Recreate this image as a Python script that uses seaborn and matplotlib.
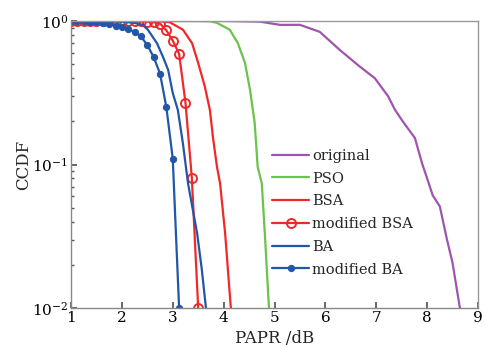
import numpy as np
import pandas as pd
import matplotlib
matplotlib.use("Agg")
import matplotlib.pyplot as plt
import seaborn as sns
from matplotlib.ticker import LogLocator, NullFormatter

# ---- data ----
orig_x = [1.0, 4.0, 4.71, 5.11, 5.50, 5.89, 6.28, 6.68, 6.97, 7.23, 7.37, 7.52, 7.76, 7.90, 7.99, 8.11, 8.25, 8.39, 8.50, 8.64, 8.66]
orig_y = [1.0, 1.0, 0.99, 0.94, 0.94, 0.84, 0.63, 0.48, 0.40, 0.30, 0.24, 0.20, 0.153, 0.102, 0.082, 0.061, 0.051, 0.030, 0.0206, 0.0102, 0.0098]

pso_x = [1.0, 3.5, 3.75, 3.87, 4.12, 4.28, 4.42, 4.52, 4.61, 4.67, 4.75, 4.81, 4.89, 4.90]
pso_y = [1.0, 1.0, 0.995, 0.97, 0.87, 0.70, 0.51, 0.33, 0.195, 0.096, 0.074, 0.033, 0.0102, 0.0098]

bsa_x = [1.0, 2.5, 2.75, 2.94, 3.20, 3.38, 3.50, 3.63, 3.73, 3.79, 3.87, 3.93, 4.03, 4.14, 4.15]
bsa_y = [1.0, 1.0, 0.995, 0.98, 0.87, 0.70, 0.51, 0.35, 0.24, 0.155, 0.096, 0.074, 0.033, 0.0102, 0.0098]

mbsa_x = [1.0, 1.125, 1.25, 1.375, 1.5, 1.625, 1.75, 1.875, 2.0, 2.125, 2.25, 2.375, 2.5, 2.625, 2.75, 2.875, 3.0, 3.125, 3.25, 3.375, 3.5]
mbsa_y = [1.0, 1.0, 1.0, 1.0, 1.0, 1.0, 1.0, 1.0, 1.0, 1.0, 1.0, 0.995, 0.99, 0.98, 0.96, 0.86, 0.73, 0.59, 0.27, 0.081, 0.0100]

ba_x = [1.0, 2.0, 2.25, 2.41, 2.51, 2.69, 2.81, 2.91, 3.00, 3.10, 3.20, 3.30, 3.48, 3.57, 3.65, 3.66]
ba_y = [1.0, 0.99, 0.97, 0.94, 0.87, 0.70, 0.56, 0.456, 0.315, 0.24, 0.14, 0.074, 0.033, 0.0187, 0.0102, 0.0098]

mba_x = [1.0, 1.125, 1.25, 1.375, 1.5, 1.625, 1.75, 1.875, 2.0, 2.125, 2.25, 2.375, 2.5, 2.625, 2.75, 2.875, 3.0, 3.125]
mba_y = [1.0, 1.0, 1.0, 0.99, 0.98, 0.97, 0.95, 0.93, 0.91, 0.88, 0.84, 0.78, 0.68, 0.56, 0.43, 0.25, 0.11, 0.0100]

labels = ["original", "PSO", "BSA", "modified BSA", "BA", "modified BA"]
colors = ["#9E55AE", "#6CC24A", "#F0282A", "#F0282A", "#2356A8", "#2356A8"]
xticks = [1, 2, 3, 4, 5, 6, 7, 8, 9]

sns.set_theme(style="ticks")
plt.rcParams["font.family"] = ["DejaVu Serif"]
plt.rcParams["mathtext.fontset"] = "dejavuserif"

fig = plt.figure(figsize=(4.86, 3.46), dpi=100)
ax = fig.add_axes([71 / 486, 1 - 308 / 346, (478 - 71) / 486, (308 - 21) / 346])

series = [(orig_x, orig_y), (pso_x, pso_y), (bsa_x, bsa_y), (mbsa_x, mbsa_y), (ba_x, ba_y), (mba_x, mba_y)]
for (xs, ys), lab, col in zip(series, labels, colors):
    kw = dict(color=col, linewidth=1.6, label=lab, ax=ax, estimator=None, sort=False)
    if lab == "modified BSA":
        kw.update(marker="o", markersize=6.5, markerfacecolor="none",
                  markeredgecolor=col, markeredgewidth=1.4)
    elif lab == "modified BA":
        kw.update(marker="o", markersize=4.5, markerfacecolor=col,
                  markeredgecolor=col)
    sns.lineplot(x=xs, y=ys, **kw)

ax.set_yscale("log")
ax.set_xlim(1, 9)
ax.set_ylim(0.01, 1)
ax.set_xticks(xticks)
ax.set_xticklabels([str(t) for t in xticks])
ax.yaxis.set_major_locator(LogLocator(base=10, numticks=5))
ax.yaxis.set_minor_locator(LogLocator(base=10, subs=np.arange(2, 10), numticks=20))
ax.yaxis.set_minor_formatter(NullFormatter())
ax.tick_params(axis="both", which="both", direction="in", labelsize=11, colors="#555555",
               labelcolor="black")
ax.tick_params(axis="both", which="major", length=4, pad=2)
ax.tick_params(axis="y", which="minor", length=2.5)
for s in ["left", "bottom"]:
    ax.spines[s].set_color("#888888")
    ax.spines[s].set_linewidth(1.0)
for s in ["top", "right"]:
    ax.spines[s].set_color("#999999")
    ax.spines[s].set_linewidth(1.0)

ax.set_xlabel("PAPR /dB", fontsize=12, labelpad=4)
ax.set_ylabel("CCDF", fontsize=12, labelpad=0)

leg = ax.legend(loc="upper left", bbox_to_anchor=(0.48, 0.575), frameon=False, fontsize=10.5,
                handlelength=2.55, handletextpad=0.2, labelspacing=0.6, borderaxespad=0)

fig.savefig("out.png", dpi=100)
